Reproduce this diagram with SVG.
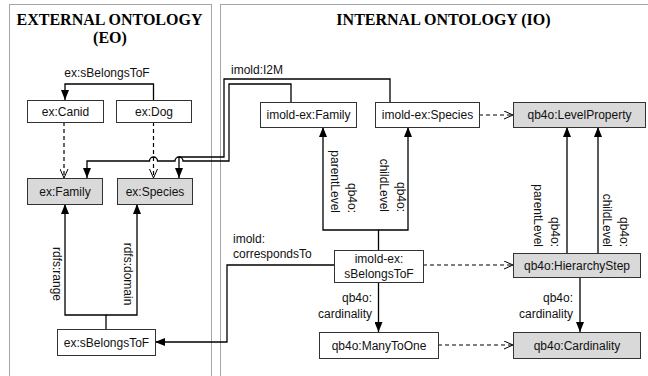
<svg xmlns="http://www.w3.org/2000/svg" width="648" height="376" viewBox="0 0 648 376">
<defs>
<marker id="fa" viewBox="0 0 10 8" refX="10" refY="4" markerWidth="10" markerHeight="8" markerUnits="userSpaceOnUse" orient="auto">
<path d="M0,0 L10,4 L0,8 z" fill="#000"/>
</marker>
<marker id="oa" viewBox="0 0 10 9" refX="9.5" refY="4.5" markerWidth="10" markerHeight="9" markerUnits="userSpaceOnUse" orient="auto">
<path d="M0.5,0.5 L9.5,4.5 L0.5,8.5" fill="none" stroke="#000" stroke-width="1"/>
</marker>
</defs>
<style>
.panel{fill:none;stroke:#a6a6a6;stroke-width:1}
.title{font-family:"Liberation Serif","Times New Roman",serif;font-weight:bold;font-size:16px;fill:#000;text-anchor:middle}
.box{fill:#fff;stroke:#333;stroke-width:1}
.gbox{fill:#d9d9d9;stroke:#333;stroke-width:1}
.lbl{font-family:"Liberation Sans",Arial,sans-serif;font-size:12px;fill:#111;text-anchor:middle}
.el{font-family:"Liberation Sans",Arial,sans-serif;font-size:12px;fill:#111}
.c{fill:none;stroke:#000;stroke-width:1.3}
.d{fill:none;stroke:#000;stroke-width:1.2;stroke-dasharray:4 3}
</style>
<g id="panels">
<rect class="panel" x="9.5" y="4.5" width="202" height="390"/>
<rect class="panel" x="220.5" y="4.5" width="450" height="390"/>
<text class="title" x="109.5" y="25">EXTERNAL ONTOLOGY</text>
<text class="title" x="110" y="43">(EO)</text>
<text class="title" x="443.5" y="25">INTERNAL ONTOLOGY (IO)</text>
</g>
<g id="connectors">
<path class="c" d="M153.5,100 V84 H65 V100" marker-end="url(#fa)"/>
<path class="d" d="M64,122 V178" marker-end="url(#oa)"/>
<path class="d" d="M153.5,122 V178" marker-end="url(#oa)"/>
<path class="c" d="M390,102 V79 H224 V157 H179 V178" marker-end="url(#fa)"/>
<path class="c" d="M291,102 V84 H229 V161 H183 A4,4 0 0 0 175,161 H157.5 A4,4 0 0 0 149.5,161 H87 V178" marker-end="url(#fa)"/>
<path class="c" d="M106,329 V315 H65 V204" marker-end="url(#fa)"/>
<path class="c" d="M106,315 H137 V204" marker-end="url(#fa)"/>
<path class="c" d="M334,265 H227 V342 H155" marker-end="url(#fa)"/>
<path class="c" d="M378.5,250 V230 H323 V127" marker-end="url(#fa)"/>
<path class="c" d="M378.5,230 H408 V127" marker-end="url(#fa)"/>
<path class="c" d="M567,253 V127" marker-end="url(#fa)"/>
<path class="c" d="M598,253 V127" marker-end="url(#fa)"/>
<path class="c" d="M378.5,282 V332" marker-end="url(#fa)"/>
<path class="c" d="M580,277 V332" marker-end="url(#fa)"/>
<path class="d" d="M479,115 H513" marker-end="url(#oa)"/>
<path class="d" d="M423,265 H513" marker-end="url(#oa)"/>
<path class="d" d="M438,345 H513" marker-end="url(#oa)"/>
<text class="lbl" x="107" y="77">ex:sBelongsToF</text>
<text class="el" x="231" y="74">imold:I2M</text>
<text class="el" x="233" y="243">imold:</text>
<text class="el" x="233" y="258">correspondsTo</text>
<text class="el" transform="translate(52.5,274) rotate(90)" text-anchor="middle">rdfs:range</text>
<text class="el" transform="translate(124,274) rotate(90)" text-anchor="middle">rdfs:domain</text>
<text class="el" transform="translate(347.5,213) rotate(90)" text-anchor="end"><tspan x="0" y="0">qb4o:</tspan><tspan x="0" y="17">parentLevel</tspan></text>
<text class="el" transform="translate(397,212) rotate(90)" text-anchor="end"><tspan x="0" y="0">qb4o:</tspan><tspan x="0" y="17">childLevel</tspan></text>
<text class="el" transform="translate(551,247) rotate(90)" text-anchor="end"><tspan x="0" y="0">qb4o:</tspan><tspan x="0" y="17">parentLevel</tspan></text>
<text class="el" transform="translate(620,247) rotate(90)" text-anchor="end"><tspan x="0" y="0">qb4o:</tspan><tspan x="0" y="17">childLevel</tspan></text>
<text class="el" x="372" y="302" text-anchor="end">qb4o:</text>
<text class="el" x="372" y="318" text-anchor="end">cardinality</text>
<text class="el" x="573" y="302" text-anchor="end">qb4o:</text>
<text class="el" x="573" y="318" text-anchor="end">cardinality</text>
</g>
<g id="ex-Canid"><rect class="box" x="27.5" y="100.5" width="76" height="22"/><text class="lbl" x="65.5" y="116">ex:Canid</text></g>
<g id="ex-Dog"><rect class="box" x="116.5" y="100.5" width="75" height="22"/><text class="lbl" x="154" y="116">ex:Dog</text></g>
<g id="ex-Family"><rect class="gbox" x="27.5" y="178.5" width="75" height="26"/><text class="lbl" x="65" y="196">ex:Family</text></g>
<g id="ex-Species"><rect class="gbox" x="117.5" y="178.5" width="75" height="26"/><text class="lbl" x="155" y="196">ex:Species</text></g>
<g id="ex-sBelongsToF"><rect class="box" x="57.5" y="329.5" width="98" height="26"/><text class="lbl" x="106.5" y="347">ex:sBelongsToF</text></g>
<g id="imold-ex-Family"><rect class="box" x="260.5" y="102.5" width="96" height="25"/><text class="lbl" x="308.5" y="119">imold-ex:Family</text></g>
<g id="imold-ex-Species"><rect class="box" x="375.5" y="102.5" width="104" height="25"/><text class="lbl" x="427.5" y="119">imold-ex:Species</text></g>
<g id="qb4o-LevelProperty"><rect class="gbox" x="513.5" y="102.5" width="132" height="25"/><text class="lbl" x="579.5" y="119">qb4o:LevelProperty</text></g>
<g id="imold-ex-sBelongsToF"><rect class="box" x="334.5" y="250.5" width="89" height="32"/><text class="lbl" x="379" y="263">imold-ex:</text><text class="lbl" x="379" y="278">sBelongsToF</text></g>
<g id="qb4o-HierarchyStep"><rect class="gbox" x="513.5" y="253.5" width="127" height="24"/><text class="lbl" x="577" y="270">qb4o:HierarchyStep</text></g>
<g id="qb4o-ManyToOne"><rect class="box" x="319.5" y="332.5" width="119" height="26"/><text class="lbl" x="379" y="350">qb4o:ManyToOne</text></g>
<g id="qb4o-Cardinality"><rect class="gbox" x="513.5" y="332.5" width="127" height="26"/><text class="lbl" x="577" y="350">qb4o:Cardinality</text></g>
</svg>
